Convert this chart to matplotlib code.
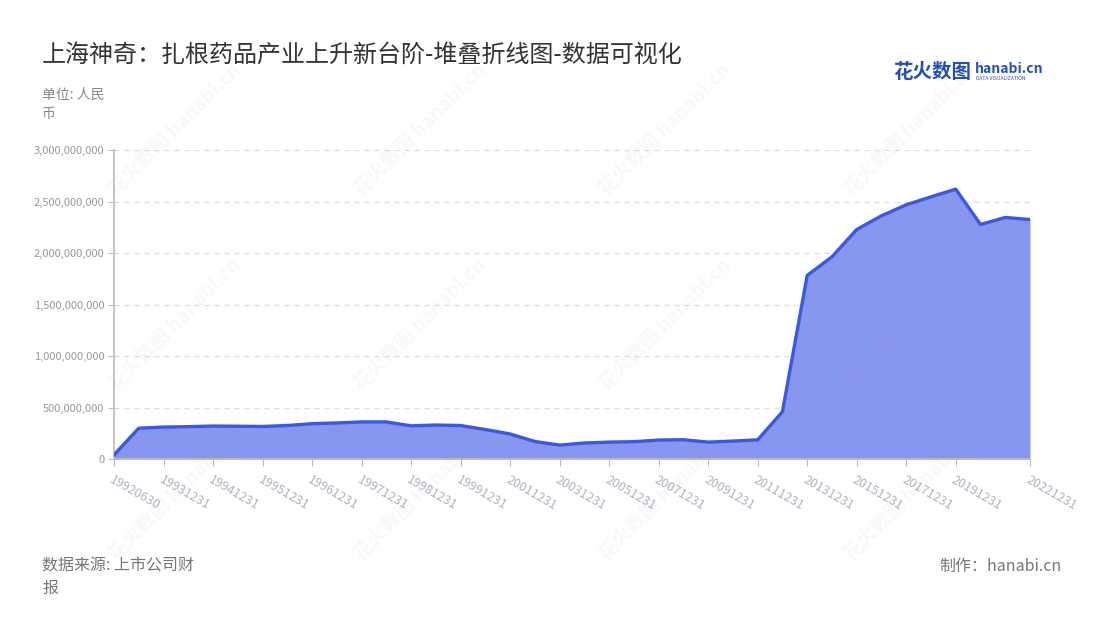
import matplotlib
matplotlib.use("Agg")
import matplotlib.pyplot as plt
from matplotlib.ticker import FuncFormatter

plt.rcParams['font.family'] = ['Noto Sans CJK SC', 'DejaVu Sans']

# report dates (semi-annual up to 1999, then annual)
dates = ['19920630', '19930630', '19931231', '19940630', '19941231', '19950630',
         '19951231', '19960630', '19961231', '19970630', '19971231', '19980630',
         '19981231', '19990630', '19991231', '20001231', '20011231', '20021231',
         '20031231', '20041231', '20051231', '20061231', '20071231', '20081231',
         '20091231', '20101231', '20111231', '20121231', '20131231', '20141231',
         '20151231', '20161231', '20171231', '20181231', '20191231', '20201231',
         '20211231', '20221231']

# total assets (RMB)
values = [40e6, 299e6, 310e6, 314e6, 320e6, 318e6,
          316e6, 325e6, 343e6, 350e6, 360e6, 360e6,
          322e6, 330e6, 325e6, 286e6, 243e6, 170e6,
          135e6, 155e6, 164e6, 168e6, 184e6, 187e6,
          164e6, 174e6, 186e6, 459e6, 1782e6, 1963e6,
          2228e6, 2361e6, 2468e6, 2545e6, 2620e6, 2277e6,
          2345e6, 2325e6]

label_idx = list(range(0, 35, 2)) + [37]

W, H = 1100, 620
fig = plt.figure(figsize=(11, 6.2), dpi=100)

ax = fig.add_axes([114 / W, (H - 459) / H, 916 / W, 309 / H])
x = list(range(len(dates)))
ax.fill_between(x, values, 0, color='#8797f0', lw=0, zorder=2)
ax.plot(x, values, color='#3b57e8', lw=2.4, zorder=3, solid_joinstyle='round')

ax.set_xlim(0, len(dates) - 1)
ax.set_ylim(0, 3e9)
ax.set_yticks([0, 5e8, 1e9, 1.5e9, 2e9, 2.5e9, 3e9])
ax.yaxis.set_major_formatter(FuncFormatter(lambda v, p: f'{int(v):,}'))
ax.grid(axis='y', color='#dddddd', ls=(0, (4, 4)), lw=0.9, zorder=0)

ax.set_xticks(label_idx)
ax.set_xticklabels([dates[i] for i in label_idx], rotation=-30, ha='left',
                   va='top', rotation_mode='anchor', color='#b0b3c0', fontsize=9)
ax.tick_params(axis='x', length=5, color='#bbbbbb', pad=5)
ax.tick_params(axis='y', length=4, color='#bbbbbb', labelcolor='#999999',
               labelsize=8, pad=3)

for s in ['top', 'right']:
    ax.spines[s].set_visible(False)
for s in ['left', 'bottom']:
    ax.spines[s].set_color('#bbbbbb')
    ax.spines[s].set_linewidth(1.2)

# title and notes
fig.text(42 / W, 1 - 55 / H, '上海神奇：扎根药品产业上升新台阶-堆叠折线图-数据可视化',
         fontsize=17.3, color='#333333', va='center', ha='left')
fig.text(42 / W, 1 - 88 / H, '单位: 人民\n币', fontsize=10, color='#888888',
         va='top', ha='left', linespacing=1.45)
fig.text(42 / W, 1 - 558 / H, '数据来源: 上市公司财\n报', fontsize=11.5,
         color='#777777', va='top', ha='left', linespacing=1.35)
fig.text(1062 / W, 1 - 558 / H, '制作：hanabi.cn', fontsize=11.5,
         color='#777777', va='top', ha='right')

# logo
fig.text(893 / W, 1 - 72 / H, '花火数图', fontsize=14, fontweight='bold',
         color='#2350b8', va='center', ha='left')
fig.text(975 / W, 1 - 69 / H, 'hanabi.cn', fontsize=10, fontweight='bold',
         color='#2350b8', va='center', ha='left')
fig.text(976 / W, 1 - 79 / H, 'DATA VISUALIZATION', fontsize=3.6,
         color='#2350b8', va='center', ha='left')

# watermarks
for cx in [175, 420, 665, 910]:
    for cy in [130, 325, 495]:
        fig.text(cx / W, 1 - cy / H, '花火数图 hanabi.cn', fontsize=14,
                 fontweight='bold', rotation=45, color='#888888', alpha=0.06,
                 ha='center', va='center', zorder=10)

fig.savefig('out.png', dpi=100)
